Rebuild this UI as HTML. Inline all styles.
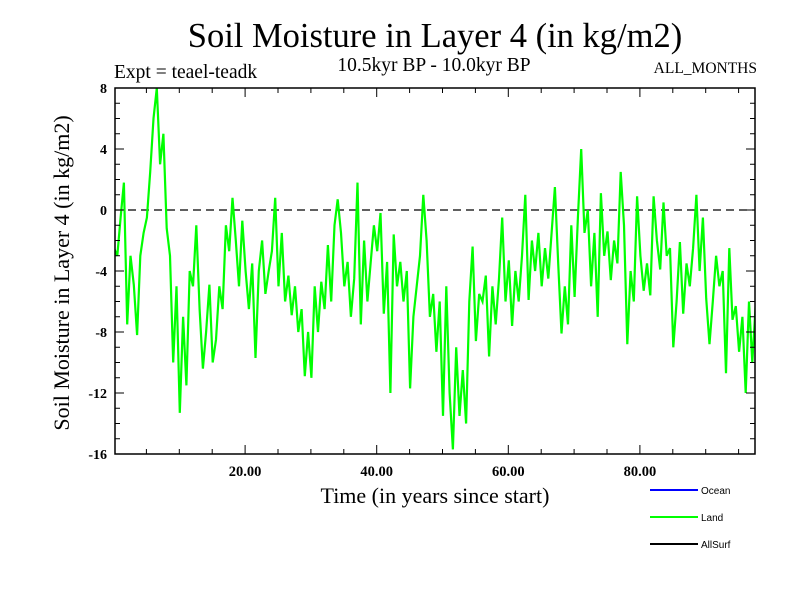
<!DOCTYPE html>
<html><head><meta charset="utf-8"><style>
body{margin:0;background:#fff}
svg{display:block;font-family:"Liberation Serif",serif}
</style></head><body>
<svg id="c" width="800" height="600" viewBox="0 0 800 600">
<defs><clipPath id="pc"><rect x="115" y="88" width="640" height="366"/></clipPath></defs>
<text x="435" y="47" font-size="34.5" text-anchor="middle">Soil Moisture in Layer 4 (in kg/m2)</text>
<text x="114" y="78" font-size="19.5">Expt = teael-teadk</text>
<text x="434" y="71" font-size="19.5" text-anchor="middle">10.5kyr BP - 10.0kyr BP</text>
<text x="757" y="73" font-size="15.5" text-anchor="end">ALL_MONTHS</text>
<text transform="translate(69,273) rotate(-90)" font-size="22" text-anchor="middle">Soil Moisture in Layer 4 (in kg/m2)</text>
<text x="435" y="503" font-size="22" text-anchor="middle">Time (in years since start)</text>
<g id="plot"></g>
<g font-family="Liberation Sans,sans-serif" font-size="10">
<line x1="650" y1="490" x2="698" y2="490" stroke="#0000ff" stroke-width="2"/>
<text x="701" y="494">Ocean</text>
<line x1="650" y1="517" x2="698" y2="517" stroke="#00ff00" stroke-width="2"/>
<text x="701" y="521">Land</text>
<line x1="650" y1="544" x2="698" y2="544" stroke="#000" stroke-width="2"/>
<text x="701" y="548">AllSurf</text>
</g>
</svg>
<script>
const yTicks=[8,4,0,-4,-8,-12,-16];
const xTicks=[20,40,60,80];
const timeStep=0.5, timeStart=0.08;
const land=[-2.5,-3,-0.5,1.8,-7.5,-3,-4.9,-8.2,-3,-1.5,-0.5,2.5,6,8,3,5,-1.2,-3,-10,-5,-13.3,-7,-11.5,-4,-5,-1,-6.5,-10.4,-8,-4.9,-10,-8.5,-5,-6.5,-1,-2.7,0.8,-2,-5,-0.7,-4,-6.5,-3.5,-9.7,-4,-2,-5.5,-4,-2.7,0.8,-5,-1.5,-6,-4.3,-6.9,-5,-8,-6.5,-10.9,-8,-11,-5,-8,-4.7,-6.5,-2.3,-6,-1,0.7,-1.5,-5,-3.4,-7,-4.5,1.8,-7.5,-2,-6,-3.5,-1,-2.7,-0.2,-6.8,-3.4,-12,-1.6,-5,-3.4,-6,-4,-11.7,-7,-5,-3,1,-2,-7,-5.5,-9.3,-6,-13.5,-5,-12,-15.7,-9,-13.5,-10.5,-14,-6,-2.4,-8.6,-5.5,-6,-4.3,-9.6,-5,-7.5,-4.5,-0.5,-6,-3.3,-7.6,-4,-6,-3,1,-5.9,-2,-4,-1.5,-5,-2.5,-4.5,-1.5,1.5,-3.5,-8.1,-5,-7.5,-1,-5.7,-0.5,4,-1.5,0,-5,-1.5,-7,1.1,-3,-1.4,-4.6,-2,-3.5,2.5,-1,-8.8,-4,-6,0.9,-3,-5.3,-3.5,-5.6,0.9,-2,-3.9,0.5,-3,-2.5,-9,-6,-2.1,-6.8,-3.5,-5,-2.5,1,-4,-0.5,-5.8,-8.8,-6,-3,-5,-4,-10.7,-2.5,-7.2,-6.3,-9.3,-7,-12,-6,-10,-6.3,-8];
const L=115,R=755,T=88,B=454,X0=0,X1=97.6,Y0=-16,Y1=8;
const sx=v=>113.5+(v-X0)*6.58;
const sy=v=>B-(v-Y0)*(B-T)/(Y1-Y0);
const ns="http://www.w3.org/2000/svg";
const g=document.getElementById('plot');
function mk(t,a){const e=document.createElementNS(ns,t);for(const k in a)e.setAttribute(k,a[k]);g.appendChild(e);return e;}
let z=mk('line',{x1:L,x2:R,y1:sy(0),y2:sy(0),stroke:'#000','stroke-width':1.3,'stroke-dasharray':'8,5'});


let d='';land.forEach((v,i)=>{d+=(i?'L':'M')+sx(timeStart+i*timeStep).toFixed(1)+','+sy(v).toFixed(1);});
let p=mk('path',{d:d,fill:'none',stroke:'#00ff00','stroke-width':2.2,'stroke-linejoin':'miter','clip-path':'url(#pc)'});


let f=mk('rect',{x:L,y:T,width:R-L,height:B-T,fill:'none',stroke:'#000','stroke-width':1.5});


for(let v=Y0;v<=Y1;v++){const y=sy(v),len=(v%4===0)?9:5;
 mk('line',{x1:L,x2:L+len,y1:y,y2:y,stroke:'#000','stroke-width':1});
 mk('line',{x1:R,x2:R-len,y1:y,y2:y,stroke:'#000','stroke-width':1});}
for(let v=5;v<X1;v+=5){const x=sx(v),len=(v%20===0)?9:5;
 mk('line',{x1:x,x2:x,y1:B,y2:B-len,stroke:'#000','stroke-width':1});
 mk('line',{x1:x,x2:x,y1:T,y2:T+len,stroke:'#000','stroke-width':1});}
yTicks.forEach(v=>{const t=mk('text',{x:107,y:sy(v)+5,'font-size':14,'font-weight':'bold','text-anchor':'end'});t.textContent=v;
 
 });
xTicks.forEach(v=>{const t=mk('text',{x:sx(v),y:476,'font-size':14.5,'font-weight':'bold','text-anchor':'middle'});t.textContent=v.toFixed(2);
 
 });
</script>
</body></html>
